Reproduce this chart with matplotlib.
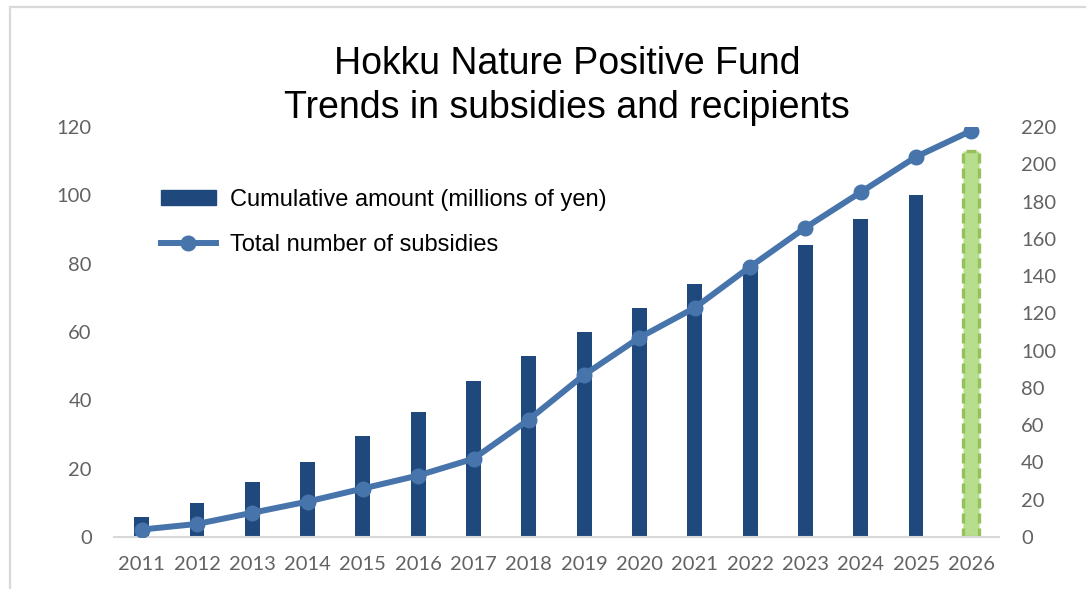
import matplotlib
matplotlib.use("Agg")
import matplotlib.pyplot as plt
from matplotlib.patches import Rectangle
from matplotlib.lines import Line2D
from matplotlib.patches import Patch

years = ["2011", "2012", "2013", "2014", "2015", "2016", "2017", "2018",
         "2019", "2020", "2021", "2022", "2023", "2024", "2025", "2026"]
amount = [6, 10, 16, 22, 29.5, 36.5, 45.7, 53, 60, 67, 74, 80, 85.5, 93, 100, 113]
subsidies = [4, 7, 13, 19, 26, 33, 42, 63, 87, 107, 123, 145, 166, 185, 204, 218]
left_ticks = [0, 20, 40, 60, 80, 100, 120]
right_ticks = [0, 20, 40, 60, 80, 100, 120, 140, 160, 180, 200, 220]

title = "Hokku Nature Positive Fund\nTrends in subsidies and recipients"
bar_label = "Cumulative amount (millions of yen)"
line_label = "Total number of subsidies"

W, H = 1086, 589
fig = plt.figure(figsize=(W / 100, H / 100), dpi=100)

# outer chart frame
fig.patches.append(Rectangle((10 / W, -0.1), 1.2, (H - 7) / H + 0.1,
                             transform=fig.transFigure, fill=False,
                             edgecolor="#d9d9d9", linewidth=1.6))

ax = fig.add_axes([114 / W, (H - 537) / H, (999 - 114) / W, 410 / H])
x = list(range(len(years)))

bar_blue = "#1f497d"
line_blue = "#4674ab"
tick_gray = "#626262"

ax.bar(x[:-1], amount[:-1], width=0.27, color=bar_blue, zorder=2)
ax.bar(x[-1], amount[-1], width=0.29, facecolor="#b6de8c", edgecolor="#96c05a",
       linestyle=(0, (3, 1.5)), linewidth=2.4, zorder=2)

ax.set_xlim(-0.5, len(years) - 0.5)
ax.set_ylim(0, 120)
ax.set_yticks(left_ticks)
ax.set_xticks(x)
ax.set_xticklabels(years)
for s in ["top", "right", "left"]:
    ax.spines[s].set_visible(False)
ax.spines["bottom"].set_color("#d9d9d9")
ax.spines["bottom"].set_linewidth(1.5)
ax.tick_params(axis="both", length=0, labelsize=14.5, labelcolor=tick_gray)
ax.tick_params(axis="y", pad=16)
ax.tick_params(axis="x", pad=14)
for lab in ax.get_xticklabels() + ax.get_yticklabels():
    lab.set_family("Lato")

ax2 = ax.twinx()
ax2.plot(x, subsidies, color=line_blue, linewidth=4.3, marker="o",
         markersize=10.5, zorder=3, solid_capstyle="round")
ax2.set_ylim(0, 220)
ax2.set_yticks(right_ticks)
for s in ["top", "right", "left", "bottom"]:
    ax2.spines[s].set_visible(False)
ax2.tick_params(axis="y", length=0, labelsize=14.5, labelcolor=tick_gray, pad=16)
for lab in ax2.get_yticklabels():
    lab.set_family("Lato")

fig.text(567 / W, 1 - 86 / H, title, ha="center", va="center",
         fontsize=27, family="Liberation Sans", linespacing=1.3)

handles = [Patch(facecolor=bar_blue, edgecolor=bar_blue),
           Line2D([0], [0], color=line_blue, linewidth=4.3, marker="o",
                  markersize=10.5)]
leg = fig.legend(handles, [bar_label, line_label], loc="upper left",
                 bbox_to_anchor=(140 / W, 1 - 168 / H), frameon=False,
                 prop={"family": "Liberation Sans", "size": 17},
                 handlelength=2.3, handleheight=0.6, handletextpad=0.6,
                 labelspacing=0.95)

fig.savefig("out.png", dpi=100)
